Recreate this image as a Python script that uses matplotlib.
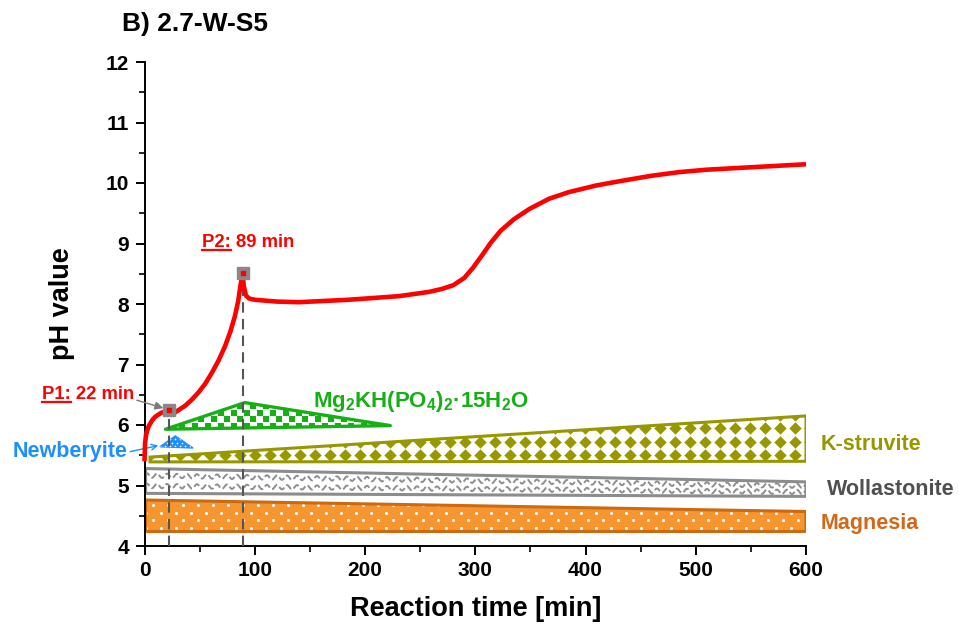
import numpy as np
import matplotlib.pyplot as plt
from matplotlib.patches import Polygon
from matplotlib.ticker import MultipleLocator

plt.rcParams['font.family'] = ['Liberation Sans', 'DejaVu Sans']
plt.rcParams['mathtext.fontset'] = 'custom'
plt.rcParams['mathtext.rm'] = 'Liberation Sans:bold'
plt.rcParams['mathtext.bf'] = 'Liberation Sans:bold'
plt.rcParams['mathtext.it'] = 'Liberation Sans:bold'
plt.rcParams['mathtext.default'] = 'rm'

# pH curve
time = [0, 0.5, 1.5, 3.5, 7, 10, 15, 20, 22, 24, 27, 32, 37, 43, 49, 55, 61, 67, 73, 78, 82, 85,
        87, 89, 90, 92, 95, 100, 120, 140, 185, 231, 258, 270, 280, 290, 298, 306, 314, 323,
        335, 349, 367, 385, 410, 431, 460, 485, 510, 540, 570, 600]
ph = [5.40, 5.70, 5.85, 5.97, 6.08, 6.14, 6.20, 6.23, 6.24, 6.20, 6.20, 6.26, 6.32, 6.42, 6.54,
      6.68, 6.86, 7.06, 7.30, 7.55, 7.80, 8.05, 8.30, 8.52, 8.30, 8.14, 8.09, 8.07, 8.04, 8.03,
      8.07, 8.13, 8.20, 8.25, 8.31, 8.43, 8.60, 8.80, 9.01, 9.21, 9.40, 9.57, 9.74, 9.85, 9.96,
      10.03, 10.12, 10.18, 10.22, 10.25, 10.28, 10.31]

# characteristic points
p_time = [22, 89]
p_ph = [6.24, 8.52]

# phase bands (time, upper pH, lower pH)
magnesia_t = [1, 600]
magnesia_top = [4.76, 4.57]
magnesia_bot = [4.24, 4.24]
wollast_t = [1, 600]
wollast_top = [5.28, 5.06]
wollast_bot = [4.87, 4.82]
kstruv_t = [5, 600]
kstruv_top = [5.47, 6.15]
kstruv_bot = [5.39, 5.40]
mgkh_t = [19, 91, 223]
mgkh_ph = [5.93, 6.37, 5.99]
newb_t = [14, 28, 44]
newb_ph = [5.64, 5.82, 5.62]

RED = '#FF0000'
GREEN = '#16B016'
BLUE = '#1E8FFF'
OLIVE = '#979700'
GREY = '#8C8C8C'
ORANGE = '#F7952F'
ORANGE_EDGE = '#CC6A12'

fig = plt.figure(figsize=(9.59, 6.35), dpi=100)
ax = fig.add_axes([144.5 / 959, 89 / 635, 661.5 / 959, 484 / 635])
ax.set_xlim(0, 600)
ax.set_ylim(4, 12)

PX_X = 600 / 661.5   # minutes per pixel
PX_Y = 8 / 484       # pH per pixel


def band(t, top, bot):
    return list(zip(t, top)) + list(zip(t[::-1], bot[::-1]))


def clip_poly(verts):
    p = Polygon(verts, closed=True, facecolor='none', edgecolor='none')
    ax.add_patch(p)
    return p


def dots(verts, color, dx, dy, size, marker='o', stagger=True, z=2):
    clip = clip_poly(verts)
    xs = [v[0] for v in verts]
    ys = [v[1] for v in verts]
    gx, gy = [], []
    rows = np.arange(min(ys) + dy * PX_Y * 0.5, max(ys) + dy * PX_Y, dy * PX_Y)
    for i, y in enumerate(rows):
        off = dx * PX_X / 2 if (stagger and i % 2) else 0
        for x in np.arange(min(xs) + off, max(xs) + dx * PX_X, dx * PX_X):
            gx.append(x)
            gy.append(y)
    sc = ax.scatter(gx, gy, s=size, marker=marker, color=color, linewidths=0, zorder=z)
    sc.set_clip_path(clip)


# Magnesia
mg_v = band(magnesia_t, magnesia_top, magnesia_bot)
ax.add_patch(Polygon(mg_v, closed=True, facecolor=ORANGE, edgecolor='none', zorder=1.5))
dots(mg_v, 'white', 15, 7.5, 5)
ax.add_patch(Polygon(mg_v, closed=True, facecolor='none', edgecolor=ORANGE_EDGE, lw=2.2, zorder=2.5))

# Wollastonite
wo_v = band(wollast_t, wollast_top, wollast_bot)
ax.add_patch(Polygon(wo_v, closed=True, facecolor='white', edgecolor='none', zorder=1.5))
wclip = clip_poly(wo_v)
xw = np.linspace(0, 600, 2000)
top_w = np.interp(xw, wollast_t, wollast_top)
bot_w = np.interp(xw, wollast_t, wollast_bot)
for f in (0.3, 0.72):
    yw = bot_w + f * (top_w - bot_w) + 2.2 * PX_Y * np.sin(2 * np.pi * xw / (10 * PX_X))
    ln, = ax.plot(xw, yw, color='#8E8E8E', lw=1.4, ls=(0, (3.5, 1.5)), zorder=2)
    ln.set_clip_path(wclip)
ax.add_patch(Polygon(wo_v, closed=True, facecolor='none', edgecolor=GREY, lw=2.2, zorder=2.5))

# K-struvite
ks_v = band(kstruv_t, kstruv_top, kstruv_bot)
ax.add_patch(Polygon(ks_v, closed=True, facecolor='white', edgecolor='none', zorder=1.5))
dots(ks_v, OLIVE, 15, 13.5, 40, marker='D', stagger=False)
ax.add_patch(Polygon(ks_v, closed=True, facecolor='none', edgecolor=OLIVE, lw=2.2, zorder=2.5))

# Mg2KH(PO4)2.15H2O - checkerboard
mk_v = list(zip(mgkh_t, mgkh_ph))
ax.add_patch(Polygon(mk_v, closed=True, facecolor='white', edgecolor='none', zorder=1.5))
mclip = clip_poly(mk_v)
sq = 6.5
cx, cy = [], []
for i, y in enumerate(np.arange(min(mgkh_ph) + sq * PX_Y / 2, max(mgkh_ph) + sq * PX_Y, sq * PX_Y)):
    for j, x in enumerate(np.arange(min(mgkh_t) + sq * PX_X / 2, max(mgkh_t) + sq * PX_X, sq * PX_X)):
        if (i + j) % 2 == 0:
            cx.append(x)
            cy.append(y)
sc = ax.scatter(cx, cy, s=(sq * 0.72) ** 2, marker='s', color=GREEN, linewidths=0, zorder=2)
sc.set_clip_path(mclip)
ax.add_patch(Polygon(mk_v, closed=True, facecolor='none', edgecolor=GREEN, lw=2.4,
                     joinstyle='round', zorder=2.5))

# Newberyite
nb_v = list(zip(newb_t, newb_ph))
ax.add_patch(Polygon(nb_v, closed=True, facecolor=BLUE, edgecolor=BLUE, lw=1.0, zorder=2))
dots(nb_v, 'white', 5, 3.5, 1.5, z=2.2)

# vertical guides at P1, P2
for t, p in zip(p_time, p_ph):
    ax.plot([t, t], [4, p], color='#555555', lw=1.5, ls=(0, (5, 3)), zorder=3)

# pH curve
ax.plot(time, ph, color=RED, lw=3.3, solid_capstyle='butt', solid_joinstyle='round',
        zorder=4, clip_on=False)
ax.plot(p_time, p_ph, ls='none', marker='s', ms=8.4, mfc='#888888', mec='#888888', zorder=5)
ax.plot(p_time, p_ph, ls='none', marker='s', ms=2.5, mfc=RED, mec=RED, zorder=6)

# axes styling
for s in ['top', 'right']:
    ax.spines[s].set_visible(False)
for s in ['left', 'bottom']:
    ax.spines[s].set_linewidth(1.4)
ax.xaxis.set_major_locator(MultipleLocator(100))
ax.xaxis.set_minor_locator(MultipleLocator(50))
ax.yaxis.set_major_locator(MultipleLocator(1))
ax.yaxis.set_minor_locator(MultipleLocator(0.5))
ax.tick_params(which='major', length=6.8, width=1.4, labelsize=15, pad=4.3)
ax.tick_params(which='minor', length=4, width=1.2)
for lab in ax.get_xticklabels() + ax.get_yticklabels():
    lab.set_fontweight('bold')
ax.set_xlabel('Reaction time [min]', fontsize=19.5, fontweight='bold')
ax.set_ylabel('pH value', fontsize=19.5, fontweight='bold')
ax.xaxis.set_label_coords(0.5, -0.103)
ax.yaxis.set_label_coords(-0.105, 0.5)
fig.text(122 / 959, 1 - 31 / 635, 'B) 2.7-W-S5', fontsize=19, fontweight='bold',
         ha='left', va='baseline')

# phase labels
ax.text(613, 5.58, 'K-struvite', color=OLIVE, fontsize=15.5, fontweight='bold', va='baseline', clip_on=False)
ax.text(619, 4.84, 'Wollastonite', color='#505050', fontsize=15.5, fontweight='bold', va='baseline', clip_on=False)
ax.text(613.5, 4.28, 'Magnesia', color='#D0691A', fontsize=15.5, fontweight='bold', va='baseline', clip_on=False)
ax.text(152.5, 6.30, r'Mg$_2$KH(PO$_4$)$_2$·15H$_2$O', color=GREEN, fontsize=16,
        fontweight='bold', va='baseline')
ax.text(-120, 5.47, 'Newberyite', color=BLUE, fontsize=15.5, fontweight='bold', va='baseline',
        clip_on=False)
ax.annotate('', xy=(12.5, 5.66), xytext=(-13, 5.56),
            arrowprops=dict(arrowstyle='->', color=BLUE, lw=1.0, shrinkA=0, shrinkB=0),
            annotation_clip=False)


# P1 / P2 labels with underlined head
def p_label(x, y, head, tail):
    ax.text(x, y, head + tail, color=RED, fontsize=13.3, fontweight='bold', va='baseline',
            clip_on=False)
    h = ax.text(x, y, head, fontsize=13.3, fontweight='bold', va='baseline', alpha=0)
    fig.canvas.draw()
    bb = h.get_window_extent()
    h.remove()
    inv = ax.transData.inverted()
    x0, yy = inv.transform((bb.x0, ax.transData.transform((x, y))[1] - 3))
    x1, _ = inv.transform((bb.x1, 0))
    ax.plot([x0, x1], [yy, yy], color=RED, lw=1.6, clip_on=False)


p_label(-93, 6.43, 'P1:', ' 22 min')
p_label(52, 8.95, 'P2:', ' 89 min')
ax.annotate('', xy=(17, 6.28), xytext=(-7, 6.41),
            arrowprops=dict(arrowstyle='-|>', color='#7A7A7A', lw=1.0, mutation_scale=12,
                            shrinkA=0, shrinkB=0),
            annotation_clip=False)

fig.savefig('out.png', dpi=100)
